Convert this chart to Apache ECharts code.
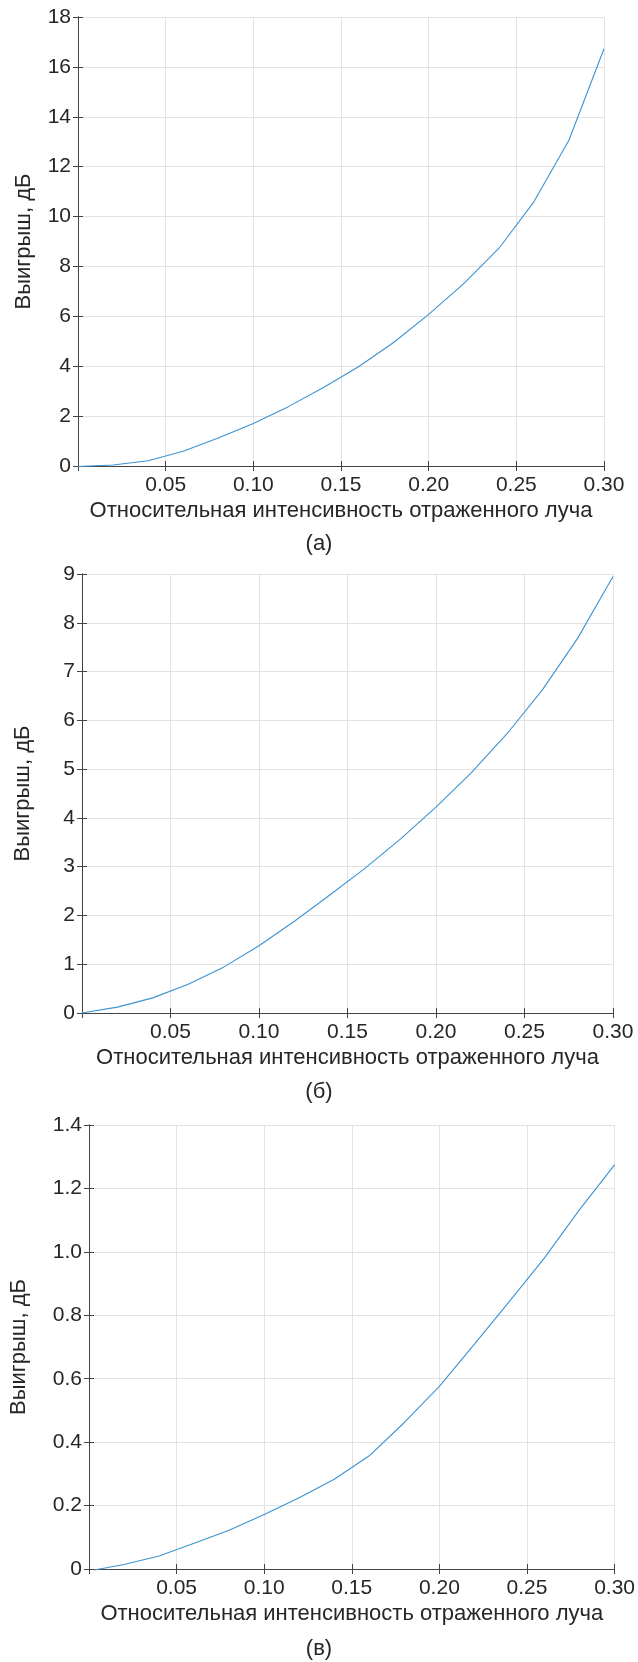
<!DOCTYPE html>
<html>
<head>
<meta charset="utf-8">
<script src="https://cdn.jsdelivr.net/npm/echarts@6/dist/echarts.min.js"></script>
<style>
html,body{margin:0;padding:0;background:#fff;}
#c{width:638px;height:1662px;}
</style>
</head>
<body>
<div id="c"></div>
<script>
// ---- data ----
const xA = [0, 0.02, 0.04, 0.06, 0.08, 0.10, 0.12, 0.14, 0.16, 0.18, 0.20, 0.22, 0.24, 0.26, 0.28, 0.30];
const yA = [-0.02, 0.04, 0.21, 0.59, 1.12, 1.70, 2.38, 3.15, 3.98, 4.95, 6.08, 7.31, 8.72, 10.59, 13.06, 16.73];

const xB = [0, 0.02, 0.04, 0.06, 0.08, 0.10, 0.12, 0.14, 0.16, 0.18, 0.20, 0.22, 0.24, 0.26, 0.28, 0.30];
const yB = [0, 0.12, 0.31, 0.59, 0.94, 1.38, 1.88, 2.42, 2.97, 3.57, 4.22, 4.93, 5.72, 6.62, 7.68, 8.95];

const xC = [0.003, 0.02, 0.04, 0.06, 0.08, 0.10, 0.12, 0.14, 0.16, 0.18, 0.20, 0.22, 0.24, 0.26, 0.28, 0.30];
const yC = [-0.003, 0.014, 0.041, 0.081, 0.122, 0.172, 0.225, 0.283, 0.357, 0.462, 0.576, 0.709, 0.844, 0.981, 1.133, 1.274];

const xTicks = {min: 0, max: 0.30, interval: 0.05};
const yRanges = [
  {min: 0, max: 18, interval: 2, dec: 0},
  {min: 0, max: 9, interval: 1, dec: 0},
  {min: 0, max: 1.4, interval: 0.2, dec: 1}
];
const xTitle = 'Относительная интенсивность отраженного луча';
const yTitle = 'Выигрыш, дБ';
const captions = ['(а)', '(б)', '(в)'];

// ---- layout ----
const FONT = "'Liberation Sans', Arial, Helvetica, sans-serif";
const TXT = '#262626';
const AX = '#444444';
const GRIDC = '#e3e3e3';
const LINEC = '#3b93d3';

const grids = [
  {left: 78, top: 17, width: 526, height: 449},
  {left: 82, top: 574, width: 531, height: 439},
  {left: 89, top: 1125, width: 528, height: 444}
];
const yNameGaps = [43, 48, 59];
const capY = [545, 1093, 1650];

const seriesData = [
  xA.map((x, i) => [x, yA[i]]),
  xB.map((x, i) => [x, yB[i]]),
  xC.map((x, i) => [x, yC[i]])
];

const xAxes = [], yAxes = [], series = [], graphics = [];
grids.forEach((g, i) => {
  const axLine = {show: true, lineStyle: {color: AX, width: 1}};
  const tick = {show: true, inside: true, length: 5, lineStyle: {color: AX}};
  xAxes.push({
    type: 'value', gridIndex: i, position: 'bottom',
    min: xTicks.min, max: xTicks.max, interval: xTicks.interval,
    axisLine: axLine, axisTick: tick,
    axisLabel: {show: true, margin: 9, color: TXT, fontSize: 21, fontFamily: FONT,
      formatter: v => (Math.abs(v) < 1e-9 ? '' : v.toFixed(2))},
    splitLine: {show: true, lineStyle: {color: GRIDC, width: 1}},
    name: xTitle, nameLocation: 'middle', nameGap: 34,
    nameTextStyle: {color: TXT, fontSize: 22, fontFamily: FONT}
  });
  xAxes.push({
    type: 'value', gridIndex: i, position: 'top',
    min: xTicks.min, max: xTicks.max, interval: xTicks.interval,
    axisLine: axLine, axisTick: tick, axisLabel: {show: false}, splitLine: {show: false}
  });
  const yr = yRanges[i];
  yAxes.push({
    type: 'value', gridIndex: i, position: 'left',
    min: yr.min, max: yr.max, interval: yr.interval,
    axisLine: axLine, axisTick: tick,
    axisLabel: {show: true, margin: 7, color: TXT, fontSize: 21, fontFamily: FONT,
      formatter: v => (Math.abs(v) < 1e-9 ? '0' : v.toFixed(yr.dec))},
    splitLine: {show: true, lineStyle: {color: GRIDC, width: 1}},
    name: yTitle, nameLocation: 'middle', nameGap: yNameGaps[i], nameRotate: 90,
    nameTextStyle: {color: TXT, fontSize: 22, fontFamily: FONT}
  });
  yAxes.push({
    type: 'value', gridIndex: i, position: 'right',
    min: yr.min, max: yr.max, interval: yr.interval,
    axisLine: axLine, axisTick: tick, axisLabel: {show: false}, splitLine: {show: false}
  });
  series.push({
    type: 'line', xAxisIndex: i * 2, yAxisIndex: i * 2,
    data: seriesData[i], showSymbol: false, symbol: 'none', smooth: false,
    lineStyle: {color: LINEC, width: 1.1}, clip: false, animation: false
  });
  graphics.push({
    type: 'text', left: 'center', top: capY[i] - 12,
    style: {text: captions[i], fill: TXT, font: '22px ' + FONT}
  });
});

const chart = echarts.init(document.getElementById('c'), null, {renderer: 'canvas'});
chart.setOption({
  animation: false,
  backgroundColor: '#ffffff',
  grid: grids.map(g => Object.assign({containLabel: false}, g)),
  xAxis: xAxes,
  yAxis: yAxes,
  series: series,
  graphic: graphics
});
</script>
</body>
</html>
